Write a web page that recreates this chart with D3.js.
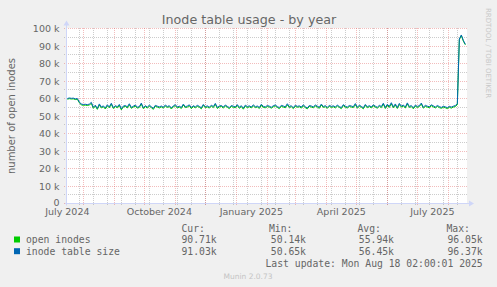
<!DOCTYPE html>
<html><head><meta charset="utf-8">
<script src="https://cdn.jsdelivr.net/npm/d3@7"></script>
<style>body{margin:0;background:#f0f0f0;overflow:hidden}svg{display:block}</style>
</head><body>
<svg id="c" width="497" height="287"></svg>
<script>
// ---- data (values in thousands, one sample every 2 days) ----
const startDate = "2024-07-16";
const stepDays = 2;
const tableSize = [
60.0,60.3,60.1,60.2,59.8,60.0,
58.0,56.8,56.6,56.7,56.5,56.8,57.8,
55.0,56.2,54.3,56.9,55.1,55.8,54.6,56.4,55.2,57.3,
54.8,55.9,55.3,56.6,54.1,55.7,56.0,55.2,57.0,54.9,
55.6,56.3,55.0,55.4,57.4,54.7,55.9,55.1,56.2,55.3,
54.4,56.1,55.6,55.2,55.7,55.0,56.3,55.4,55.9,54.6,
55.8,56.5,55.1,55.6,54.9,56.8,55.3,55.7,56.4,54.8,
55.9,55.2,56.1,55.5,54.7,56.6,55.3,55.8,55.0,56.2,
55.4,57.2,54.9,55.7,56.0,55.1,56.3,55.5,54.8,56.0,
55.6,55.2,56.5,55.0,55.9,54.5,56.2,55.4,55.8,55.1,
56.4,55.3,55.7,54.9,56.7,55.5,55.2,56.0,55.6,55.0,
55.9,56.3,55.4,54.8,56.1,55.7,55.2,57.0,55.4,55.9,
54.7,56.2,55.5,55.8,55.1,56.4,55.3,54.6,56.0,55.7,
55.2,56.3,55.6,55.0,56.8,55.4,55.9,54.9,56.1,55.5,
55.8,55.2,56.2,55.4,54.8,56.5,55.6,55.1,56.0,55.7,
55.3,57.1,55.0,56.2,55.5,54.7,56.6,55.3,55.9,55.2,
56.4,55.6,55.0,56.1,55.4,57.3,54.9,56.7,55.5,57.6,
55.2,56.9,54.8,57.2,55.6,56.3,55.1,57.5,55.4,56.0,
54.7,56.2,55.5,55.9,57.4,55.0,56.1,55.6,55.3,56.4,
55.8,55.1,56.0,55.4,54.9,55.6,55.2,54.8,55.5,55.1,
55.6,56.0,
57.0,94.0,96.3,93.2,91.0
];
const openInodes = [
59.6,59.9,59.7,59.8,59.4,59.6,
57.6,56.3,56.1,56.2,56.0,56.3,57.2,
54.4,55.7,53.8,56.3,54.6,55.3,54.0,55.9,54.7,56.7,
54.3,55.4,54.7,56.1,53.5,55.2,55.5,54.6,56.5,54.4,
55.1,55.7,54.5,54.9,56.8,54.2,55.4,54.5,55.7,54.8,
53.8,55.6,55.1,54.6,55.2,54.5,55.7,54.9,55.4,54.0,
55.3,55.9,54.6,55.1,54.3,56.3,54.8,55.1,55.9,54.2,
55.4,54.7,55.5,55.0,54.1,56.1,54.8,55.2,54.5,55.7,
54.8,56.7,54.3,55.2,55.5,54.5,55.8,55.0,54.2,55.5,
55.0,54.7,56.0,54.4,55.4,53.9,55.7,54.8,55.3,54.6,
55.8,54.8,55.2,54.3,56.2,54.9,54.7,55.4,55.1,54.5,
55.3,55.8,54.9,54.2,55.6,55.1,54.7,56.4,54.9,55.3,
54.2,55.6,55.0,55.3,54.5,55.9,54.7,54.1,55.5,55.1,
54.7,55.7,55.1,54.4,56.3,54.9,55.3,54.4,55.6,54.9,
55.3,54.6,55.7,54.9,54.2,56.0,55.0,54.6,55.5,55.1,
54.8,56.5,54.5,55.6,55.0,54.1,56.1,54.7,55.4,54.6,
55.9,55.0,54.5,55.6,54.8,56.8,54.3,56.2,54.9,57.0,
54.7,56.3,54.3,56.6,55.1,55.7,54.6,56.9,54.9,55.4,
54.1,55.7,54.9,55.4,56.8,54.5,55.5,55.1,54.7,55.9,
55.2,54.6,55.5,54.8,54.4,55.0,54.7,54.2,55.0,54.5,
55.1,55.4,
56.5,93.6,96.0,92.8,90.7
];
const yTickValues = [0,10,20,30,40,50,60,70,80,90,100];
const yMinorValues = [5,15,25,35,45,55,65,75,85,95];
const xLabelMonths = ["2024-07-01","2024-10-01","2025-01-01","2025-04-01","2025-07-01"];
const seriesNames = ["open inodes","inode table size"];
const seriesColors = ["#00cc00","#0066b3"];
const statHeaders = ["Cur:","Min:","Avg:","Max:"];
const statsOpen = ["90.71k","50.14k","55.94k","96.05k"];
const statsTable = ["91.03k","50.65k","56.45k","96.37k"];
const titleText = "Inode table usage - by year";
const yAxisTitle = "number of open inodes";
const lastUpdate = "Last update: Mon Aug 18 02:00:01 2025";
const versionText = "Munin 2.0.73";
const watermark = "RRDTOOL / TOBI OETIKER";

// ---- drawing ----
const svg = d3.select("#c");
const L = 67, R = 467, T = 28.5, B = 203.5;
const domStart = new Date("2024-07-15T16:00:00Z"), domEnd = new Date("2025-08-19T16:00:00Z");
const x = d3.scaleUtc().domain([domStart, domEnd]).range([L, R]);
const y = d3.scaleLinear().domain([0, 100]).range([B, T]);
const t0 = new Date(startDate + "T00:00:00Z");
const dates = tableSize.map((_, i) => d3.utcDay.offset(t0, i * stepDays));

svg.append("rect").attr("x", L).attr("y", 28).attr("width", R - L).attr("height", 176).attr("fill", "#fff");

const gridGray = "rgba(143,143,143,0.45)", gridRed = "rgba(222,79,79,0.38)";
const sn = v => Math.round(v - 0.5) + 0.5;
// minor vertical grid: every 2 weeks (Sundays)
const sundays = d3.utcSunday.range(new Date("2024-07-14T00:00:00Z"), domEnd).filter((d, i) => i % 2 === 0 && d >= domStart);
svg.append("g").selectAll("line").data(sundays).join("line")
  .attr("x1", d => sn(x(d))).attr("x2", d => sn(x(d))).attr("y1", 28).attr("y2", 206)
  .attr("stroke", gridGray).attr("stroke-dasharray", "1,1");
// minor horizontal
svg.append("g").selectAll("line").data(yMinorValues).join("line")
  .attr("x1", 64).attr("x2", R).attr("y1", d => sn(y(d))).attr("y2", d => sn(y(d)))
  .attr("stroke", gridGray).attr("stroke-dasharray", "1,1");
// major vertical: months
const months = d3.utcMonth.range(domStart, domEnd);
svg.append("g").selectAll("line").data(months).join("line")
  .attr("x1", d => sn(x(d))).attr("x2", d => sn(x(d))).attr("y1", 28).attr("y2", 206)
  .attr("stroke", gridRed).attr("stroke-dasharray", "1,1");
// major horizontal
svg.append("g").selectAll("line").data(yTickValues).join("line")
  .attr("x1", 64).attr("x2", R).attr("y1", d => sn(y(d))).attr("y2", d => sn(y(d)))
  .attr("stroke", gridRed).attr("stroke-dasharray", "1,1");

// series
const line = d3.line().x((d, i) => x(dates[i])).y(d => y(d));
svg.append("path").datum(openInodes).attr("d", line).attr("fill", "none").attr("stroke", seriesColors[0]).attr("stroke-width", 1);
svg.append("path").datum(tableSize).attr("d", line).attr("fill", "none").attr("stroke", seriesColors[1]).attr("stroke-width", 1);

// axes
const axisCol = "#cfd6f8";
svg.append("line").attr("x1", L - 0.5).attr("x2", L - 0.5).attr("y1", B + 2).attr("y2", T - 4).attr("stroke", axisCol);
svg.append("line").attr("x1", L - 2).attr("x2", R + 3).attr("y1", B).attr("y2", B).attr("stroke", axisCol);
svg.append("path").attr("d", `M${L-3.5},${T-3} L${L+2.5},${T-3} L${L-0.5},${T-8} Z`).attr("fill", axisCol);
svg.append("path").attr("d", `M${R+2},${B-3} L${R+2},${B+3} L${R+7},${B} Z`).attr("fill", axisCol);

const font = "DejaVu Sans, sans-serif", mono = "DejaVu Sans Mono, monospace", fc = "#666";
// y labels
svg.append("g").selectAll("text").data(yTickValues).join("text")
  .attr("x", 59.5).attr("y", d => sn(y(d)) + (d === 0 ? 2 : 3.5)).attr("text-anchor", "end")
  .attr("font-family", font).attr("font-size", 9.5).attr("fill", fc)
  .text(d => d === 0 ? "0" : d + " k");
// x labels
const fmt = d3.utcFormat("%B %Y");
svg.append("g").selectAll("text").data(xLabelMonths).join("text")
  .attr("x", d => x(d3.utcDay.offset(new Date(d + "T00:00:00Z"), 15))).attr("y", 215.2).attr("text-anchor", "middle")
  .attr("font-family", font).attr("font-size", 9.5).attr("fill", fc)
  .text(d => fmt(new Date(d + "T00:00:00Z")));

// title
svg.append("text").attr("x", 249).attr("y", 24).attr("text-anchor", "middle")
  .attr("font-family", font).attr("font-size", 12.7).attr("fill", fc).text(titleText);
// y title
svg.append("text").attr("transform", "translate(15,116) rotate(-90)").attr("text-anchor", "middle")
  .attr("font-family", font).attr("font-size", 10).attr("fill", fc).text(yAxisTitle);
// watermark
svg.append("text").attr("transform", "translate(485.5,53) rotate(90)").attr("text-anchor", "middle")
  .attr("font-family", font).attr("font-size", 7).attr("fill", "#c8c8c8").text(watermark);

// legend
const lg = svg.append("g").attr("font-family", mono).attr("font-size", 9.75).attr("fill", fc);
const colX = [181.5, 269, 357.5, 446.5];
const colR = [216.7, 306, 394, 482.7];
statHeaders.forEach((h, i) => lg.append("text").attr("x", colX[i]).attr("y", 231.5).text(h));
[statsOpen, statsTable].forEach((row, r) => {
  const yy = 243 + r * 11.7;
  lg.append("rect").attr("x", 14).attr("y", yy - 6.5).attr("width", 6).attr("height", 6).attr("fill", seriesColors[r]);
  lg.append("text").attr("x", 26).attr("y", yy).text(seriesNames[r]);
  row.forEach((v, i) => lg.append("text").attr("x", colR[i]).attr("y", yy).attr("text-anchor", "end").text(v));
});
lg.append("text").attr("x", 482.7).attr("y", 267.3).attr("text-anchor", "end").text(lastUpdate);
svg.append("text").attr("x", 248).attr("y", 279).attr("text-anchor", "middle")
  .attr("font-family", font).attr("font-size", 7.5).attr("fill", "#c4c4c4").text(versionText);
</script>
</body></html>
